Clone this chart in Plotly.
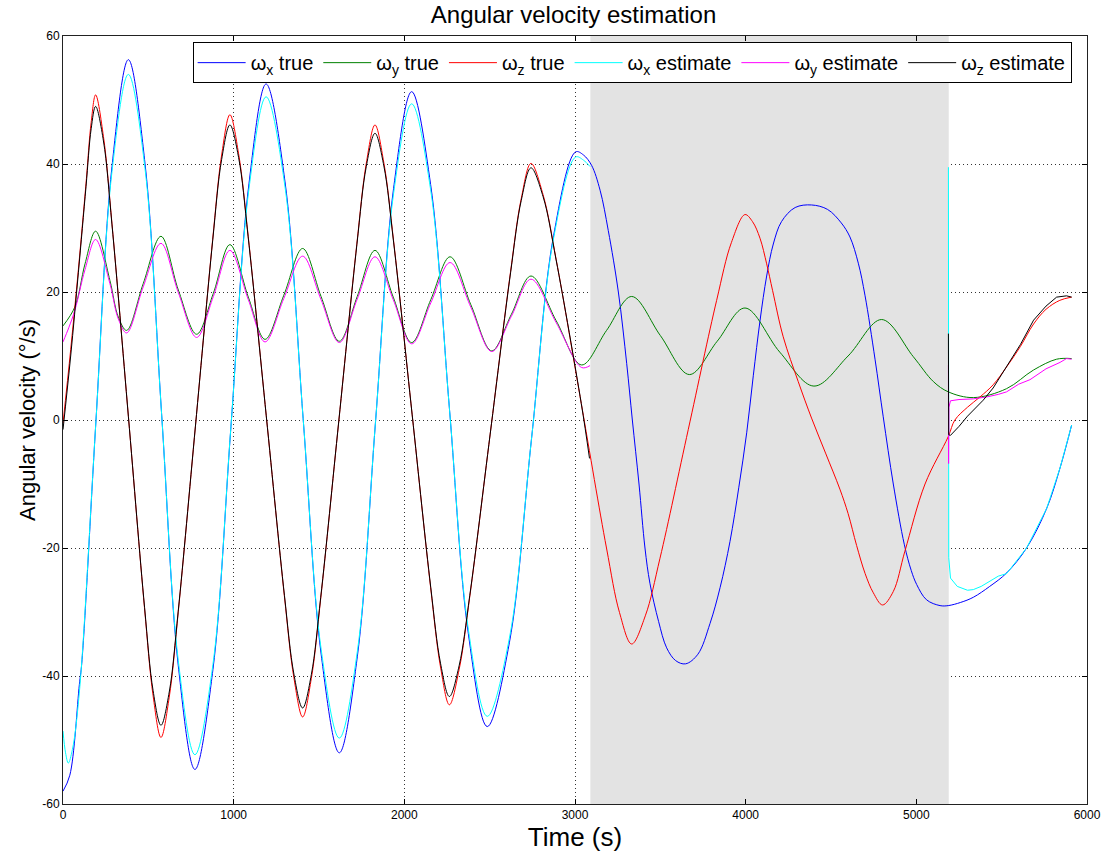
import plotly.graph_objects as go

# ---- time stamps (s) and angular rates (deg/s) ----
wx_true_t = [0, 40, 96, 110, 191.5, 287, 383, 480.5, 578, 675.5, 773, 878.5, 984, 1089.5, 1190,
             1301, 1407, 1513, 1619, 1725, 1831, 1937, 2043, 2154, 2264.5, 2375, 2486, 2615.5, 2745,
             2874.5, 3004, 3050, 3097, 3147, 3195, 3254, 3303, 3336, 3375, 3410, 3439, 3490, 3537,
             3590, 3648, 3720, 3791, 3850, 3908, 3960, 4006, 4045, 4084, 4123, 4162, 4210, 4290,
             4386, 4480, 4560, 4611, 4660, 4699, 4758, 4806, 4865, 4930, 4970, 5002, 5060, 5139,
             5187, 5260, 5334, 5430, 5529, 5646, 5764, 5842, 5910]
wx_true_v = [-58.0, -55.5, -41.3, -38.0, -0.85, 39.6, 56.3, 40.1, 0.85, -38.4, -54.6, -39.0, -1.05,
             36.9, 52.5, 37.2, 0.25, -36.7, -52.0, -36.9, -0.35, 36.2, 51.3, 36.8, 1.7, -33.4, -47.9,
             -34.8, -3.0, 28.8, 41.9, 41.4, 39.8, 35.9, 29.6, 20.0, 8.8, 0.0, -10.0, -20.0, -25.5,
             -31.5, -35.6, -37.6, -38.1, -36.6, -31.8, -26.2, -19.0, -10.5, -2.0, 7.0, 15.5, 22.5,
             27.5, 31.0, 33.2, 33.6, 32.9, 30.8, 28.6, 24.5, 19.5, 9.5, 0.5, -10.0, -19.5, -23.5,
             -25.7, -28.1, -29.0, -29.0, -28.5, -27.7, -26.0, -23.9, -20.0, -13.8, -7.5, -0.8]

wy_true_t = [0, 70, 129, 191, 275, 324, 373, 470, 574, 676, 783, 881, 978, 1086, 1184, 1294, 1404,
             1512, 1619, 1724, 1828, 1935, 2043, 2155, 2268, 2390, 2512, 2627, 2742, 2890, 3039,
             3185, 3332, 3500, 3670, 3833, 3996, 4200, 4400, 4600, 4797, 4982, 5100, 5187, 5334,
             5529, 5686, 5822, 5910]
wy_true_v = [14.7, 17.7, 24.4, 29.5, 21.8, 16.1, 14.0, 21.3, 28.7, 20.3, 13.4, 19.8, 27.4, 19.2, 12.6,
             19.5, 26.8, 19.3, 12.3, 19.3, 26.5, 19.2, 12.1, 18.8, 25.5, 18.0, 10.8, 16.5, 22.5, 15.5,
             8.6, 14.0, 19.3, 13.2, 7.1, 12.3, 17.5, 10.6, 5.3, 10.0, 15.7, 9.9, 6.0, 4.4, 3.5, 4.9,
             7.8, 9.5, 9.6]

wz_true_t = [0, 45, 90, 135, 165, 191, 237, 287, 383, 478, 528, 574, 622.5, 675, 776, 877, 929.5,
             978, 1029, 1084.5, 1191, 1297.5, 1353, 1404, 1455, 1510, 1616, 1722, 1777, 1828, 1880,
             1937, 2046, 2155, 2212, 2264, 2321, 2383.5, 2503, 2622.5, 2685, 2742, 2813, 2889.5,
             3037, 3184.5, 3261, 3332, 3412, 3498, 3664, 3830, 3916, 3996, 4040, 4084, 4123, 4158,
             4220, 4308, 4386, 4470, 4552, 4600, 4650, 4700, 4748, 4802, 4865, 4933, 5051, 5187,
             5226, 5300, 5373, 5450, 5529, 5610, 5687, 5760, 5841, 5910]
wz_true_v = [-0.5, 11.0, 23.5, 37.0, 46.5, 50.8, 44.3, 30.7, 0.6, -29.5, -43.1, -49.6, -43.3, -30.1,
             -0.95, 28.2, 41.4, 47.7, 41.6, 28.9, 0.65, -27.6, -40.3, -46.4, -40.4, -27.9, -0.15,
             27.6, 40.1, 46.1, 40.2, 28.0, 0.8, -26.4, -38.6, -44.5, -39.0, -27.6, -2.2, 23.2, 34.6,
             40.1, 35.2, 25.1, 2.55, -20.0, -30.1, -35.0, -30.6, -21.6, -1.45, 18.7, 27.7, 32.1,
             31.0, 28.4, 24.4, 20.2, 13.0, 6.0, 0.3, -5.3, -10.8, -14.6, -19.6, -24.0, -27.0, -28.9,
             -26.8, -20.5, -10.0, -2.6, 0.0, 2.0, 3.6, 5.5, 8.3, 11.5, 15.0, 17.3, 18.7, 19.2]

# estimator output before the outage
wx_est_t = [0, 15, 31, 55, 96, 191.5, 287, 383, 480.5, 578, 675.5, 773, 878.5, 984, 1089.5, 1190,
            1301, 1407, 1513, 1619, 1725, 1831, 1937, 2043, 2154, 2264.5, 2375, 2486, 2615.5, 2745,
            2874.5, 3004, 3050, 3088]
wx_est_v = [-48.6, -52.0, -53.6, -51.5, -42.5, -0.85, 38.8, 54.0, 39.3, 0.85, -37.6, -52.3, -38.2,
            -1.0, 36.1, 50.5, 36.4, 0.25, -35.9, -49.7, -36.1, -0.35, 35.4, 49.4, 36.0, 1.7, -32.7,
            -46.3, -34.1, -3.0, 28.4, 41.1, 40.6, 39.6]

wy_est_t = [0, 35, 70, 129, 191, 275, 324, 373, 470, 574, 676, 783, 881, 978, 1086, 1184, 1294,
            1404, 1512, 1619, 1724, 1828, 1935, 2043, 2155, 2268, 2390, 2512, 2627, 2742, 2890,
            3039, 3088]
wy_est_v = [12.2, 14.5, 17.2, 23.5, 28.2, 21.3, 15.8, 13.6, 20.8, 27.6, 19.9, 12.9, 19.3, 26.5, 18.8,
            12.2, 19.0, 25.6, 18.8, 12.1, 18.9, 25.5, 18.8, 11.9, 18.3, 24.6, 17.6, 10.7, 16.2, 22.0,
            15.2, 8.2, 8.5]

wz_est_t = [0, 45, 90, 135, 165, 191, 237, 287, 383, 478, 528, 574, 622.5, 675, 776, 877, 929.5,
            978, 1029, 1084.5, 1191, 1297.5, 1353, 1404, 1455, 1510, 1616, 1722, 1777, 1828, 1880,
            1937, 2046, 2155, 2212, 2264, 2321, 2383.5, 2503, 2622.5, 2685, 2742, 2813, 2889.5,
            3037, 3085]
wz_est_v = [-1.5, 10.0, 23.0, 36.5, 45.5, 49.0, 43.6, 30.5, 0.6, -29.3, -42.3, -47.7, -42.5, -29.9,
            -0.95, 28.0, 40.7, 46.1, 41.0, 28.7, 0.65, -27.4, -39.7, -45.0, -39.8, -27.7, -0.15,
            27.4, 39.6, 44.8, 39.7, 27.8, 0.8, -26.2, -38.0, -43.2, -38.4, -27.4, -2.2, 23.0, 34.3,
            39.4, 34.9, 25.0, 2.55, -6.0]

# estimator output after the outage (re-convergence transient)
wx_est2_t = [5188, 5190, 5200, 5240, 5300, 5334, 5380, 5412, 5480, 5529, 5646, 5764, 5842, 5910]
wx_est2_v = [39.5, -21.5, -24.7, -26.0, -26.6, -26.5, -26.0, -25.5, -24.4, -24.0, -20.0, -13.8, -7.5, -0.8]

wy_est2_t = [5188, 5189, 5191, 5200, 5250, 5334, 5412, 5480, 5529, 5600, 5666, 5760, 5842, 5880, 5910]
wy_est2_v = [8.6, -6.8, 2.0, 3.0, 3.2, 3.3, 3.6, 4.0, 4.4, 5.6, 6.3, 8.0, 9.0, 9.6, 9.5]

wz_est2_t = [5188, 5189.5, 5200, 5250, 5300, 5392, 5450, 5529, 5610, 5687, 5760, 5822, 5880, 5910]
wz_est2_v = [13.5, -2.3, -2.4, -1.0, 0.6, 3.1, 5.0, 8.3, 11.8, 15.6, 17.8, 19.2, 19.4, 19.2]

outage_start, outage_end = 3090, 5190

x_ticks = [0, 1000, 2000, 3000, 4000, 5000, 6000]
y_ticks = [-60, -40, -20, 0, 20, 40, 60]

names = ["ω<sub>x</sub> true", "ω<sub>y</sub> true", "ω<sub>z</sub> true",
         "ω<sub>x</sub> estimate", "ω<sub>y</sub> estimate", "ω<sub>z</sub> estimate"]
colors = ["#0000ff", "#008000", "#ff0000", "#00ffff", "#ff00ff", "#000000"]

fig = go.Figure()

true_series = [(wx_true_t, wx_true_v), (wy_true_t, wy_true_v), (wz_true_t, wz_true_v)]
for i, (t, v) in enumerate(true_series):
    fig.add_trace(go.Scatter(x=t, y=v, mode="lines", name=names[i],
                             line=dict(color=colors[i], width=1, shape="spline", smoothing=1.0)))

est_series = [((wx_est_t, wx_est_v), (wx_est2_t, wx_est2_v)),
              ((wy_est_t, wy_est_v), (wy_est2_t, wy_est2_v)),
              ((wz_est_t, wz_est_v), (wz_est2_t, wz_est2_v))]
for j, ((t1, v1), (t2, v2)) in enumerate(est_series):
    k = j + 3
    fig.add_trace(go.Scatter(x=t1, y=v1, mode="lines", name=names[k], legendgroup=names[k],
                             line=dict(color=colors[k], width=1, shape="spline", smoothing=1.0)))
    fig.add_trace(go.Scatter(x=t2, y=v2, mode="lines", name=names[k], legendgroup=names[k],
                             showlegend=False, line=dict(color=colors[k], width=1)))

# grey band: period without estimator output
fig.add_shape(type="rect", xref="x", yref="y", x0=outage_start, x1=outage_end, y0=-60, y1=60,
              fillcolor="#e3e3e3", line=dict(width=0), layer="between")

tick_font = dict(family="Liberation Sans, Arial, sans-serif", size=12, color="#000")
axis_common = dict(showline=True, linecolor="#222", linewidth=1, mirror="ticks",
                   ticks="inside", ticklen=5, tickcolor="#000", showgrid=True,
                   gridcolor="#333", griddash="1px,3px", gridwidth=1, zeroline=False,
                   tickfont=tick_font, automargin=False)

fig.update_layout(
    width=1103, height=856,
    margin=dict(l=63, r=16, t=36, b=52),
    paper_bgcolor="white", plot_bgcolor="white",
    font=dict(family="Liberation Sans, Arial, sans-serif", color="#000"),
    title=dict(text="Angular velocity estimation", x=0.52, xanchor="center",
               y=0.983, yanchor="middle", yref="container",
               font=dict(size=24, color="#000")),
    xaxis=dict(range=[0, 6000], tickvals=x_ticks, ticktext=[str(v) for v in x_ticks],
               title=dict(text="Time (s)", font=dict(size=26), standoff=2), **axis_common),
    yaxis=dict(range=[-60, 60], tickvals=y_ticks, ticktext=[str(v) for v in y_ticks],
               title=dict(text="Angular velocity (°/s)", font=dict(size=22), standoff=0),
               **axis_common),
    legend=dict(orientation="h", x=0.985, xanchor="right", y=0.992, yanchor="top",
                bgcolor="white", bordercolor="#000", borderwidth=1, itemwidth=48,
                font=dict(size=20, color="#000"), tracegroupgap=0),
    showlegend=True,
)

fig.write_html("out.html")
